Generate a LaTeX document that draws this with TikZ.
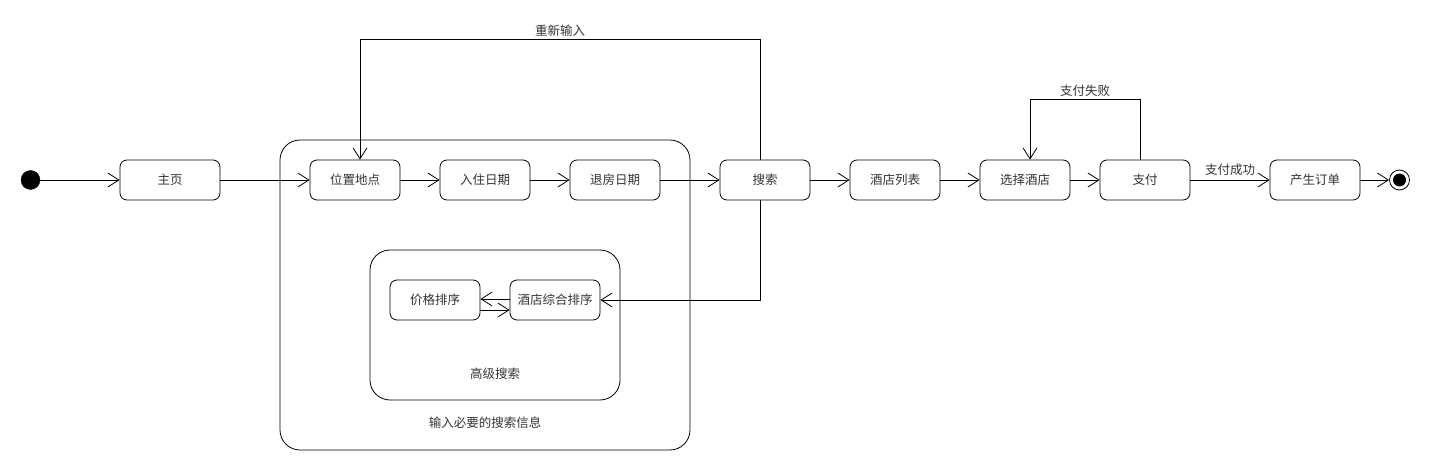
\documentclass[tikz,border=0pt]{standalone}
\usepackage{fontspec}
\setmainfont{Noto Sans CJK SC}
\usetikzlibrary{arrows.meta}
\begin{document}
\begin{tikzpicture}[x=1pt,y=-1pt,
  state/.style={draw,rounded corners=7pt,minimum width=90pt,minimum height=40pt,inner sep=0pt,font=\fontsize{12.5}{14}\selectfont,text=black!80,line width=0.8pt},
  cont/.style={draw,rounded corners=20pt,line width=0.8pt},
  arr/.style={-{Straight Barb[length=11pt,width=14pt,line width=0.8pt]},line width=0.8pt},
  lbl/.style={font=\fontsize{12.5}{14}\selectfont,text=black!80,inner sep=0pt}]
\useasboundingbox (0,0) rectangle (1430,470);
\node[draw,circle,fill=black,minimum size=19pt,inner sep=0pt] (start) at (30.5,180) {};
\node[state,minimum width=100pt] (home) at (170,180) {主页};
\draw[cont] (280,140) rectangle (690,450);
\node[state] (loc) at (355,180) {位置地点};
\node[state] (in) at (485,180) {入住日期};
\node[state] (out) at (615,180) {退房日期};
\node[state] (search) at (765,180) {搜索};
\node[state] (list) at (895,180) {酒店列表};
\node[state] (sel) at (1025,180) {选择酒店};
\node[state] (pay) at (1145,180) {支付};
\node[state] (order) at (1315,180) {产生订单};
\node[draw,circle,line width=0.8pt,minimum size=20pt,inner sep=0pt] (end) at (1399.5,180) {};
\fill (end.center) circle (6.5pt);
\draw[cont] (370,250) rectangle (620,400);
\node[state] (price) at (435,300) {价格排序};
\node[state] (comp) at (555,300) {酒店综合排序};
\node[lbl] (adv) at (495,374) {高级搜索};
\node[lbl] (need) at (485,423) {输入必要的搜索信息};
\draw[arr] (start) -- (home);
\draw[arr] (home) -- (loc);
\draw[arr] (loc) -- (in);
\draw[arr] (in) -- (out);
\draw[arr] (out) -- (search);
\draw[arr] (search) -- (list);
\draw[arr] (list) -- (sel);
\draw[arr] (sel) -- (pay);
\draw[arr] (pay) -- node[lbl,above=4pt] (paylbl) {支付成功} (order);
\draw[arr] (order) -- (end);
\draw[arr] ([xshift=-5pt]search.north) -- ++(0,-120) -| node[lbl,pos=0.25,above=3pt] (retry) {重新输入} ([xshift=5pt]loc.north);
\draw[arr] ([xshift=-5pt]pay.north) -- ++(0,-60) -| node[lbl,pos=0.25,above=3pt] (fail) {支付失败} ([xshift=5pt]sel.north);
\draw[arr] ([xshift=-5pt]search.south) |- (comp.east);
\draw[arr] ([yshift=1pt]comp.west) -- ([yshift=1pt]price.east);
\draw[arr] ([yshift=-10pt]price.east) -- ([yshift=-10pt]comp.west);
\end{tikzpicture}
\end{document}
